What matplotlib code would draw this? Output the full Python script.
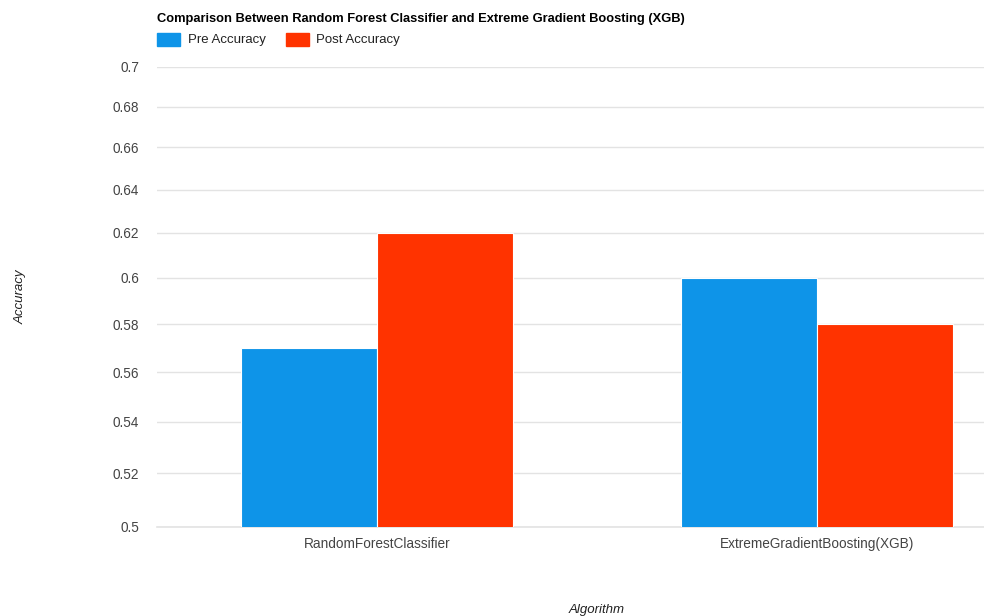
import matplotlib
matplotlib.use("Agg")
import matplotlib.pyplot as plt
from matplotlib.patches import Rectangle
import numpy as np

categories = ["RandomForestClassifier", "ExtremeGradientBoosting(XGB)"]
pre_accuracy = [0.57, 0.60]
post_accuracy = [0.62, 0.58]
y_ticks = [0.5, 0.52, 0.54, 0.56, 0.58, 0.6, 0.62, 0.64, 0.66, 0.68, 0.7]
y_tick_labels = ["0.5", "0.52", "0.54", "0.56", "0.58", "0.6", "0.62", "0.64", "0.66", "0.68", "0.7"]
series_names = ["Pre Accuracy", "Post Accuracy"]
colors = ["#0e94e8", "#ff3300"]

plt.rcParams["font.family"] = ["Liberation Sans", "DejaVu Sans"]

W, H = 984, 616
fig = plt.figure(figsize=(W / 100, H / 100), dpi=100)

# plot area in pixels: x 157..1037 (extends past the right edge), y 67..527
left, right, top, bottom = 157, 1037, 67, 527
ax = fig.add_axes([left / W, (H - bottom) / H, (right - left) / W, (bottom - top) / H])

ax.set_yscale("log")
ax.set_ylim(0.5, 0.7)
ax.set_xlim(-0.5, len(categories) - 0.5)

x = np.arange(len(categories))
bw = 136 / 440
ax.bar(x - bw / 2, pre_accuracy, width=bw, color=colors[0], edgecolor="white", linewidth=0.8, zorder=3)
ax.bar(x + bw / 2, post_accuracy, width=bw, color=colors[1], edgecolor="white", linewidth=0.8, zorder=3)

ax.yaxis.set_minor_locator(matplotlib.ticker.NullLocator())
ax.set_yticks(y_ticks)
ax.set_yticklabels(y_tick_labels)
ax.yaxis.set_minor_formatter(matplotlib.ticker.NullFormatter())
ax.set_xticks(x)
ax.set_xticklabels(categories)

ax.tick_params(axis="both", length=0, labelsize=9.8, labelcolor="#444444")
ax.tick_params(axis="y", pad=13)
ax.tick_params(axis="x", pad=7)
ax.grid(axis="y", color="#e3e3e3", linewidth=1, zorder=0)
for s in ax.spines.values():
    s.set_visible(False)
ax.axhline(0.5, color="#e3e3e3", linewidth=1.2, zorder=1, clip_on=False)

ax.set_ylabel("Accuracy", fontstyle="italic", fontsize=9.5, color="#222222")
ax.yaxis.set_label_coords((21 - left) / (right - left), 0.5)
ax.yaxis.label.set_verticalalignment("center")

fig.text(597 / W, 1 - 610 / H, "Algorithm", fontstyle="italic", fontsize=9.5,
         color="#222222", ha="center", va="center")

fig.text(157 / W, 1 - 19 / H, "Comparison Between Random Forest Classifier and Extreme Gradient Boosting (XGB)",
         fontsize=9.3, fontweight="bold", color="#000000", ha="left", va="center")

# legend swatches and labels
leg_items = [(157, 188), (286, 316)]
for (sx, tx), name, c in zip(leg_items, series_names, colors):
    fig.patches.append(Rectangle((sx / W, 1 - 46 / H), 23 / W, 13 / H,
                                 transform=fig.transFigure, color=c))
    fig.text(tx / W, 1 - 39.5 / H, name, fontsize=9.5, color="#222222", ha="left", va="center")

fig.savefig("out.png", dpi=100)
